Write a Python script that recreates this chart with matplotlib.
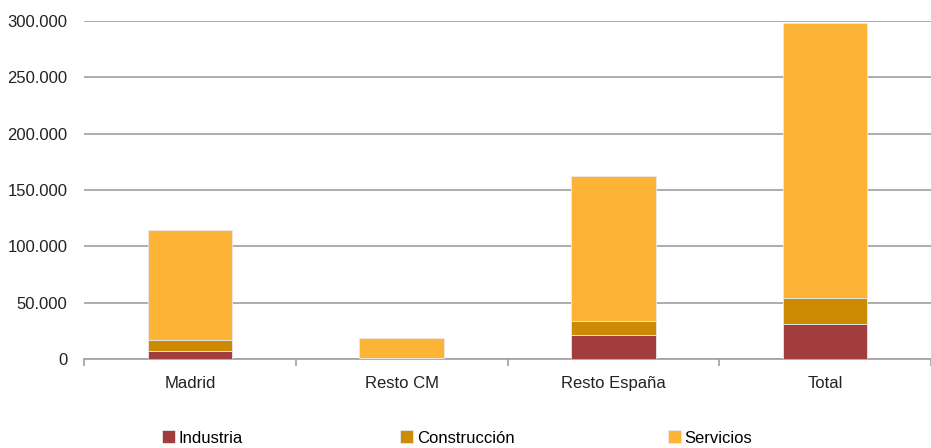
import numpy as np
import matplotlib.pyplot as plt
from matplotlib.ticker import FuncFormatter

plt.rcParams['font.family'] = ['Liberation Sans Narrow', 'Liberation Sans', 'DejaVu Sans']

categorias = ["Madrid", "Resto CM", "Resto España", "Total"]
industria = [7100, 500, 21300, 31000]
construccion = [10000, 300, 12700, 23000]
servicios = [97500, 18100, 128400, 244000]

colores = {"Industria": "#A13D3D", "Construcción": "#CC8A05", "Servicios": "#FDB335"}

fig = plt.figure(figsize=(9.31, 4.48), dpi=100)
ax = fig.add_axes([84 / 931, 89 / 448, 847 / 931, 338 / 448])

x = np.arange(len(categorias))
ancho = 0.4
base = np.zeros(len(categorias))
for nombre, valores in [("Industria", industria), ("Construcción", construccion), ("Servicios", servicios)]:
    ax.bar(x, valores, ancho, bottom=base, color=colores[nombre], label=nombre,
           edgecolor="#e8e8e8", linewidth=0.6, zorder=3)
    base = base + np.array(valores)

ax.set_xlim(-0.5, 3.5)
ax.set_ylim(0, 300000)
ax.set_yticks(np.arange(0, 300001, 50000))
ax.yaxis.set_major_formatter(FuncFormatter(lambda v, p: f"{int(v):,}".replace(",", ".")))
ax.grid(axis="y", color="#a0a0a0", linewidth=1.2, zorder=0)
ax.tick_params(axis="y", length=0, labelsize=12, colors="#222222", pad=12)

ax.set_xticks(x)
ax.set_xticklabels(categorias)
ax.set_xticks(np.arange(-0.5, 3.6, 1), minor=True)
ax.tick_params(axis="x", which="major", length=0, labelsize=12, colors="#222222", pad=12)
ax.tick_params(axis="x", which="minor", length=5, width=1.2, color="#a0a0a0")

for s in ["top", "right", "left"]:
    ax.spines[s].set_visible(False)
ax.spines["bottom"].set_color("#a0a0a0")
ax.spines["bottom"].set_linewidth(1.2)

handles, labels = ax.get_legend_handles_labels()
posiciones = [162, 400, 668]
for h, l, px in zip(handles, labels, posiciones):
    fig.legend([h], [l], loc="center left", bbox_to_anchor=(px / 931, 1 - 438 / 448),
               frameon=False, fontsize=12, handlelength=0.8, handleheight=0.8,
               handletextpad=0.2, borderaxespad=0, borderpad=0)

fig.savefig("out.png", dpi=100)
